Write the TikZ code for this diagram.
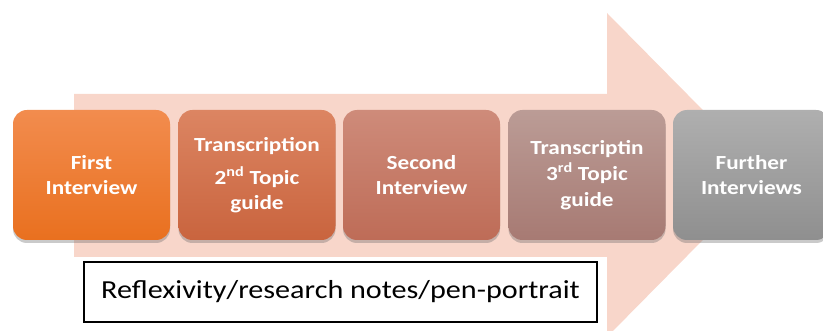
\documentclass[tikz,border=0pt]{standalone}
\usepackage{fontspec}
\setmainfont{Carlito}[FakeStretch=1.16]
\usetikzlibrary{shadows}
\definecolor{arrowc}{HTML}{F8D6CA}
\definecolor{aT}{HTML}{F28C4E}\definecolor{aB}{HTML}{E9701F}
\definecolor{bT}{HTML}{DC8562}\definecolor{bB}{HTML}{C9643E}
\definecolor{cT}{HTML}{CE8B7A}\definecolor{cB}{HTML}{BE6C57}
\definecolor{dT}{HTML}{BB9C96}\definecolor{dB}{HTML}{A77A73}
\definecolor{eT}{HTML}{AFAFAF}\definecolor{eB}{HTML}{8F8F8F}
\begin{document}
\begin{tikzpicture}[x=1pt,y=-1pt,
  stepbox/.style={rounded corners=14pt, minimum width=157pt, minimum height=130pt,
    text=white, align=center, font=\fontsize{20}{25}\selectfont\bfseries,
    drop shadow={shadow xshift=0pt, shadow yshift=-3pt, opacity=0.35, fill=black!60}},
  notebox/.style={draw=black, line width=1.5pt, fill=white, minimum width=513pt,
    minimum height=60pt, font=\fontsize{26}{30}\selectfont}]
\useasboundingbox (0,0) rectangle (823,331);
\fill[arrowc] (74,94) -- (607,94) -- (607,13) -- (767,175) -- (607,337) -- (607,257) -- (74,257) -- cycle;
\node[stepbox, top color=aT, bottom color=aB] (s1) at (91.5,175) {First\\Interview};
\node[stepbox, top color=bT, bottom color=bB] (s2) at (257,175) {Transcription\\[8pt]2\textsuperscript{nd} Topic\\guide};
\node[stepbox, top color=cT, bottom color=cB] (s3) at (421.5,175) {Second\\Interview};
\node[stepbox, top color=dT, bottom color=dB] (s4) at (587,175) {Transcriptin\\[1pt]3\textsuperscript{rd} Topic\\[1pt]guide};
\node[stepbox, top color=eT, bottom color=eB] (s5) at (751.5,175) {Further\\Interviews};
\node[notebox] (notes) at (340.5,292) {Reflexivity/research notes/pen-portrait};
\end{tikzpicture}
\end{document}
